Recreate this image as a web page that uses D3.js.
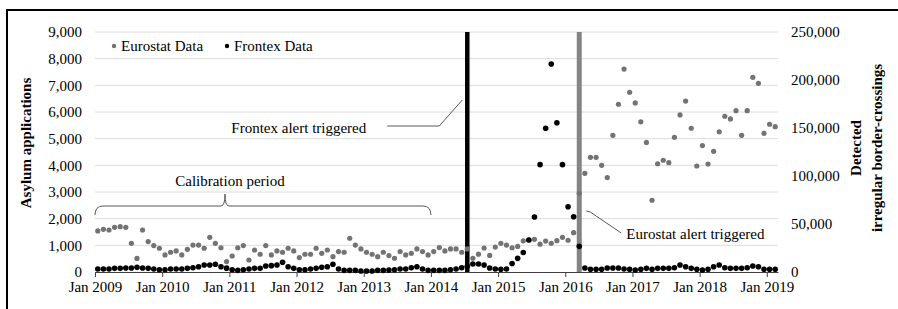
<!DOCTYPE html>
<html>
<head>
<meta charset="utf-8">
<script src="https://cdn.jsdelivr.net/npm/d3@7"></script>
<style>
    body { margin: 0; background: #ffffff; }
    svg text { font-family: "Liberation Serif", "Times New Roman", serif; fill: #000; }
</style>
</head>
<body>
<div id="chart"></div>
<script>
"use strict";

// monthly values, Jan 2009 .. Feb 2019
const eurostatData = [
    1540, 1600, 1575, 1675, 1700, 1675, 1075, 510, 1575, 1140, 990, 890,
    640, 740, 790, 640, 850, 1010, 1010, 890, 1300, 1075, 910, 390,
    600, 910, 990, 450, 825, 665, 990, 640, 790, 740, 890, 790,
    540, 665, 665, 890, 700, 825, 575, 765, 740, 1265, 1010, 865,
    740, 665, 575, 740, 615, 515, 765, 640, 700, 865, 765, 640,
    765, 915, 790, 865, 865, 740, 865, 515, 670, 900, 620, 935,
    1075, 1010, 910, 960, 1170, 1200, 1225, 1045, 1160, 1075, 1175, 1300,
    1190, 1475, 2950, 3700, 4300, 4300, 4000, 3540, 5125, 6290, 7610, 6740,
    6340, 5630, 4860, 2690, 4060, 4190, 4100, 5050, 5890, 6410, 5390, 3975,
    4740, 4050, 4525, 5260, 5840, 5740, 6050, 5125, 6050, 7300, 7075, 5200,
    5540, 5450
];

const frontexData = [
    3100, 3100, 3100, 3800, 3800, 4200, 4200, 4900, 4200, 3800, 3100, 2400,
    2400, 3100, 3100, 3100, 3800, 4500, 5500, 7300, 7300, 8000, 5500, 4000,
    2400, 1700, 2400, 3100, 3800, 3800, 6200, 6600, 7300, 10100, 5500, 3800,
    2400, 2400, 3100, 3800, 4900, 5500, 8000, 3100, 1700, 1700, 1700, 1000,
    1000, 1000, 1700, 1700, 2000, 2400, 3100, 3100, 4500, 5500, 3100, 1700,
    1700, 1700, 1700, 2400, 3100, 4500, 6000, 8300, 8300, 7300, 4200, 3100,
    2800, 3100, 8800, 14200, 20300, 33300, 57300, 111800, 149700, 216700, 155500, 111800,
    68000, 57600, 26700, 4200, 2800, 2800, 2800, 4200, 4200, 4200, 3100, 2800,
    2100, 2800, 3800, 2800, 3800, 3800, 3800, 4500, 7300, 5500, 3800, 2800,
    2100, 2800, 5500, 7300, 4500, 3800, 3800, 3800, 4500, 6200, 5500, 2800,
    2800, 2800
];

const yearTickMonths = [0, 12, 24, 36, 48, 60, 72, 84, 96, 108, 120];
const yearTickLabels = ["Jan 2009", "Jan 2010", "Jan 2011", "Jan 2012", "Jan 2013",
    "Jan 2014", "Jan 2015", "Jan 2016", "Jan 2017", "Jan 2018", "Jan 2019"];

const leftTicks = [0, 1000, 2000, 3000, 4000, 5000, 6000, 7000, 8000, 9000];
const rightTicks = [0, 50000, 100000, 150000, 200000, 250000];

const frontexAlertMonth = 66;   // Jul 2014
const eurostatAlertMonth = 86;  // Mar 2016
const calibrationEndMonth = 60; // Jan 2014

const margin = {top: 32, right: 120, bottom: 37, left: 95},
    width = 898 - margin.left - margin.right,
    height = 309 - margin.top - margin.bottom;

const root = d3.select("#chart")
    .append("svg")
    .attr("width", 898)
    .attr("height", 309);

// outer frame (cut off at right and bottom)
root.append("rect")
    .attr("x", 7).attr("y", 10)
    .attr("width", 920).attr("height", 330)
    .attr("fill", "none")
    .attr("stroke", "#000")
    .attr("stroke-width", 2);

const svg = root.append("g")
    .attr("transform", "translate(" + margin.left + "," + margin.top + ")");

const x = d3.scaleLinear()
    .domain([0, eurostatData.length])
    .range([0, width]);

const yLeft = d3.scaleLinear()
    .domain([0, 9000])
    .range([height, 0]);

const yRight = d3.scaleLinear()
    .domain([0, 250000])
    .range([height, 0]);

const fmt = d3.format(",");

// gridlines
svg.append("g")
    .selectAll("line")
    .data(leftTicks.slice(1))
    .enter().append("line")
    .attr("x1", 0).attr("x2", width)
    .attr("y1", d => yLeft(d)).attr("y2", d => yLeft(d))
    .attr("stroke", "#dcdcdc")
    .attr("stroke-width", 1);

// left axis labels
const leftAxis = svg.append("g")
    .call(d3.axisLeft(yLeft).tickValues(leftTicks).tickFormat(fmt).tickSize(0).tickPadding(13));
leftAxis.select(".domain").remove();
leftAxis.selectAll("text").attr("font-size", 15);

// right axis labels
const rightAxis = svg.append("g")
    .attr("transform", "translate(" + width + ",0)")
    .call(d3.axisRight(yRight).tickValues(rightTicks).tickFormat(fmt).tickSize(0).tickPadding(13));
rightAxis.select(".domain").remove();
rightAxis.selectAll("text").attr("font-size", 15);

// bottom axis
const bottomAxis = svg.append("g")
    .attr("transform", "translate(0," + height + ")")
    .call(d3.axisBottom(x)
        .tickValues(yearTickMonths)
        .tickFormat((d, i) => yearTickLabels[i])
        .tickSizeInner(5).tickSizeOuter(0).tickPadding(4));
bottomAxis.select(".domain").attr("stroke", "#404040");
bottomAxis.selectAll(".tick line").attr("stroke", "#404040");
bottomAxis.selectAll("text").attr("font-size", 15);

// axis titles
svg.append("text")
    .attr("transform", "rotate(-90)")
    .attr("x", -111)
    .attr("y", -64)
    .style("text-anchor", "middle")
    .attr("font-size", 15)
    .attr("font-weight", "bold")
    .text("Asylum applications");

svg.append("text")
    .attr("transform", "rotate(-90)")
    .attr("x", -116)
    .attr("y", width + 83)
    .style("text-anchor", "middle")
    .attr("font-size", 15)
    .attr("font-weight", "bold")
    .text("Detected");

svg.append("text")
    .attr("transform", "rotate(-90)")
    .attr("x", -116)
    .attr("y", width + 104)
    .style("text-anchor", "middle")
    .attr("font-size", 15)
    .attr("font-weight", "bold")
    .text("irregular  border-crossings");

// alert lines
svg.append("line")
    .attr("x1", x(frontexAlertMonth + 0.5)).attr("x2", x(frontexAlertMonth + 0.5))
    .attr("y1", 0).attr("y2", height)
    .attr("stroke", "#000")
    .attr("stroke-width", 4.5);

svg.append("line")
    .attr("x1", x(eurostatAlertMonth + 0.5)).attr("x2", x(eurostatAlertMonth + 0.5))
    .attr("y1", 0).attr("y2", height)
    .attr("stroke", "#848484")
    .attr("stroke-width", 5);

// points
svg.append("g")
    .selectAll("circle")
    .data(eurostatData)
    .enter().append("circle")
    .attr("cx", (d, i) => x(i + 0.5))
    .attr("cy", d => yLeft(d))
    .attr("r", 2.6)
    .attr("fill", "#737373");

svg.append("g")
    .selectAll("circle")
    .data(frontexData)
    .enter().append("circle")
    .attr("cx", (d, i) => x(i + 0.5))
    .attr("cy", d => yRight(d))
    .attr("r", 2.8)
    .attr("fill", "#000");

// calibration brace (the point of the brace sits left of centre, as in the original)
const bx0 = x(0), bx1 = x(calibrationEndMonth), bmid = 130, by = 174;
svg.append("path")
    .attr("d", "M" + bx0 + "," + (by + 9) + " Q" + bx0 + "," + by + " " + (bx0 + 8) + "," + by +
        " L" + (bmid - 4) + "," + by + " Q" + bmid + "," + by + " " + bmid + "," + (by - 12) +
        " Q" + bmid + "," + by + " " + (bmid + 4) + "," + by +
        " L" + (bx1 - 8) + "," + by + " Q" + bx1 + "," + by + " " + bx1 + "," + (by + 9))
    .attr("fill", "none")
    .attr("stroke", "#595959")
    .attr("stroke-width", 1);

svg.append("text")
    .attr("x", bmid + 5)
    .attr("y", by - 20)
    .style("text-anchor", "middle")
    .attr("font-size", 15)
    .text("Calibration period");

// frontex alert annotation
const fx = x(frontexAlertMonth + 0.5);
svg.append("path")
    .attr("d", "M" + (fx - 80) + ",94 L" + (fx - 28) + ",94 L" + (fx - 5) + ",68")
    .attr("fill", "none")
    .attr("stroke", "#595959")
    .attr("stroke-width", 1);

svg.append("text")
    .attr("x", fx - 101)
    .attr("y", 101)
    .style("text-anchor", "end")
    .attr("font-size", 15)
    .text("Frontex alert triggered");

// eurostat alert annotation
const ex = x(eurostatAlertMonth + 0.5);
svg.append("path")
    .attr("d", "M" + (ex + 7) + ",179 L" + (ex + 11) + ",180 L" + (ex + 42) + ",201")
    .attr("fill", "none")
    .attr("stroke", "#595959")
    .attr("stroke-width", 1);

svg.append("text")
    .attr("x", ex + 47)
    .attr("y", 207)
    .attr("font-size", 15)
    .text("Eurostat alert triggered");

// legend
const legend = root.append("g").attr("class", "legend");

legend.append("circle").attr("cx", 114).attr("cy", 46).attr("r", 2.2).attr("fill", "#737373");
legend.append("text").attr("x", 121).attr("y", 51).attr("font-size", 15).text("Eurostat Data");
legend.append("circle").attr("cx", 227).attr("cy", 46).attr("r", 2.2).attr("fill", "#000");
legend.append("text").attr("x", 234).attr("y", 51).attr("font-size", 15).text("Frontex Data");
</script>
</body>
</html>
